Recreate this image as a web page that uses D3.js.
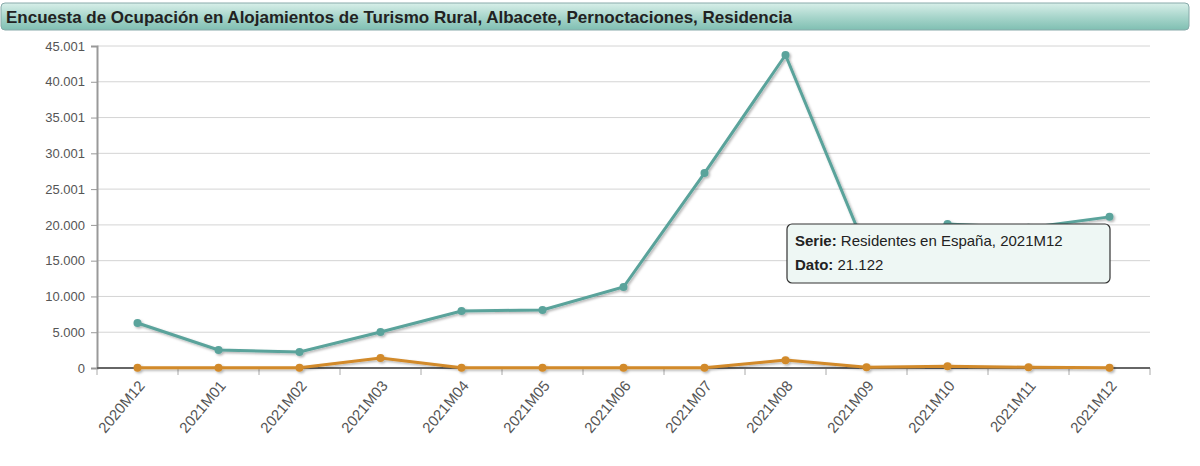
<!DOCTYPE html>
<html><head><meta charset="utf-8">
<script src="https://cdn.jsdelivr.net/npm/d3@7"></script>
<style>body{margin:0;background:#fff;font-family:"Liberation Sans",Arial,sans-serif}</style>
</head><body>
<svg width="1200" height="466"></svg>
<script>
// data
var categories = ["2020M12","2021M01","2021M02","2021M03","2021M04","2021M05","2021M06","2021M07","2021M08","2021M09","2021M10","2021M11","2021M12"];
var residentesEspana = [6290, 2520, 2240, 5030, 7970, 8100, 11320, 27250, 43740, 16400, 20125, 19600, 21122];
var residentesExtranjero = [40, 30, 30, 1400, 50, 50, 50, 50, 1100, 100, 250, 100, 50];
var tickValues = [0, 5000, 10000, 15000, 20000, 25001, 30001, 35001, 40001, 45001];
var tickLabels = ["0","5.000","10.000","15.000","20.000","25.001","30.001","35.001","40.001","45.001"];

var svg = d3.select("svg");
var defs = svg.append("defs");
var g1 = defs.append("linearGradient").attr("id","tg").attr("x1",0).attr("y1",0).attr("x2",0).attr("y2",1);
g1.append("stop").attr("offset","0").attr("stop-color","#d8efe9");
g1.append("stop").attr("offset","0.5").attr("stop-color","#a9d6cc");
g1.append("stop").attr("offset","1").attr("stop-color","#7fbfb2");
var f = defs.append("filter").attr("id","sh").attr("x","-10%").attr("y","-10%").attr("width","130%").attr("height","130%");
f.append("feDropShadow").attr("dx",1.5).attr("dy",1.5).attr("stdDeviation",1.2).attr("flood-color","#000").attr("flood-opacity",0.3);

// title bar
svg.append("rect").attr("x",1).attr("y",3).attr("width",1188).attr("height",27).attr("rx",4)
    .attr("fill","url(#tg)").attr("stroke","#8aa").attr("stroke-width",1);
svg.append("text").attr("x",6).attr("y",23).attr("font-size",17).attr("font-weight","bold").attr("fill","#222")
    .text("Encuesta de Ocupación en Alojamientos de Turismo Rural, Albacete, Pernoctaciones, Residencia");

var pLeft = 97, pRight = 1150, pTop = 46, pBottom = 368;
var x = d3.scaleBand().domain(categories).range([pLeft, pRight]);
var y = d3.scaleLinear().domain([0, 45001]).range([pBottom, pTop]);

// grid
svg.append("g").selectAll("line").data(tickValues.slice(1)).enter().append("line")
    .attr("x1",pLeft).attr("x2",pRight).attr("y1",function(d){return y(d);}).attr("y2",function(d){return y(d);})
    .attr("stroke","#d4d4d4");
// right frame
svg.append("line").attr("x1",pRight).attr("x2",pRight).attr("y1",pTop).attr("y2",pBottom)
    .attr("stroke","#999").attr("stroke-width",2).attr("filter","url(#sh)");

// y axis
var ya = svg.append("g").attr("transform","translate("+pLeft+",0)")
    .call(d3.axisLeft(y).tickValues(tickValues).tickFormat(function(d,i){return tickLabels[i];}).tickSize(6).tickPadding(6));
ya.select(".domain").attr("stroke","#999").attr("stroke-width",2);
ya.selectAll(".tick line").attr("stroke","#999");
ya.selectAll("text").attr("font-size",13).attr("fill","#555").attr("font-family","Liberation Sans, Arial");

// x axis ticks between bands
var xa = svg.append("g").attr("transform","translate(0,"+pBottom+")");
var edges = categories.map(function(c){return x(c);}).concat([pRight]);
xa.selectAll("line").data(edges).enter().append("line")
    .attr("x1",function(d){return d;}).attr("x2",function(d){return d;}).attr("y1",0).attr("y2",7).attr("stroke","#aaa");
xa.append("line").attr("x1",pLeft).attr("x2",pRight).attr("y1",0).attr("y2",0).attr("stroke","#666").attr("stroke-width",2);
xa.selectAll("text").data(categories).enter().append("text")
    .attr("transform",function(d){return "translate("+(x(d)+x.bandwidth()/2+8)+",18) rotate(-50)";})
    .attr("text-anchor","end").attr("font-size",15).attr("fill","#555").text(function(d){return d;});

function drawSeries(vals, color){
    var line = d3.line().x(function(d,i){return x(categories[i])+x.bandwidth()/2;}).y(function(d){return y(d);});
    var gg = svg.append("g").attr("filter","url(#sh)");
    gg.append("path").datum(vals).attr("d",line).attr("fill","none").attr("stroke",color).attr("stroke-width",3);
    gg.selectAll("circle").data(vals).enter().append("circle")
        .attr("cx",function(d,i){return x(categories[i])+x.bandwidth()/2;}).attr("cy",function(d){return y(d);})
        .attr("r",4).attr("fill",color);
}
drawSeries(residentesExtranjero, "#d28a2a");
drawSeries(residentesEspana, "#5aa39b");

// tooltip
var tt = svg.append("g").attr("transform","translate(787,224)");
tt.append("rect").attr("width",323).attr("height",59).attr("rx",5).attr("fill","#eef7f4").attr("stroke","#333").attr("stroke-width",1.2);
var t1 = tt.append("text").attr("x",8).attr("y",22).attr("font-size",15).attr("fill","#222");
t1.append("tspan").attr("font-weight","bold").text("Serie:");
t1.append("tspan").text(" Residentes en España, 2021M12");
var t2 = tt.append("text").attr("x",8).attr("y",46).attr("font-size",15).attr("fill","#222");
t2.append("tspan").attr("font-weight","bold").text("Dato:");
t2.append("tspan").text(" 21.122");
</script>
</body></html>
